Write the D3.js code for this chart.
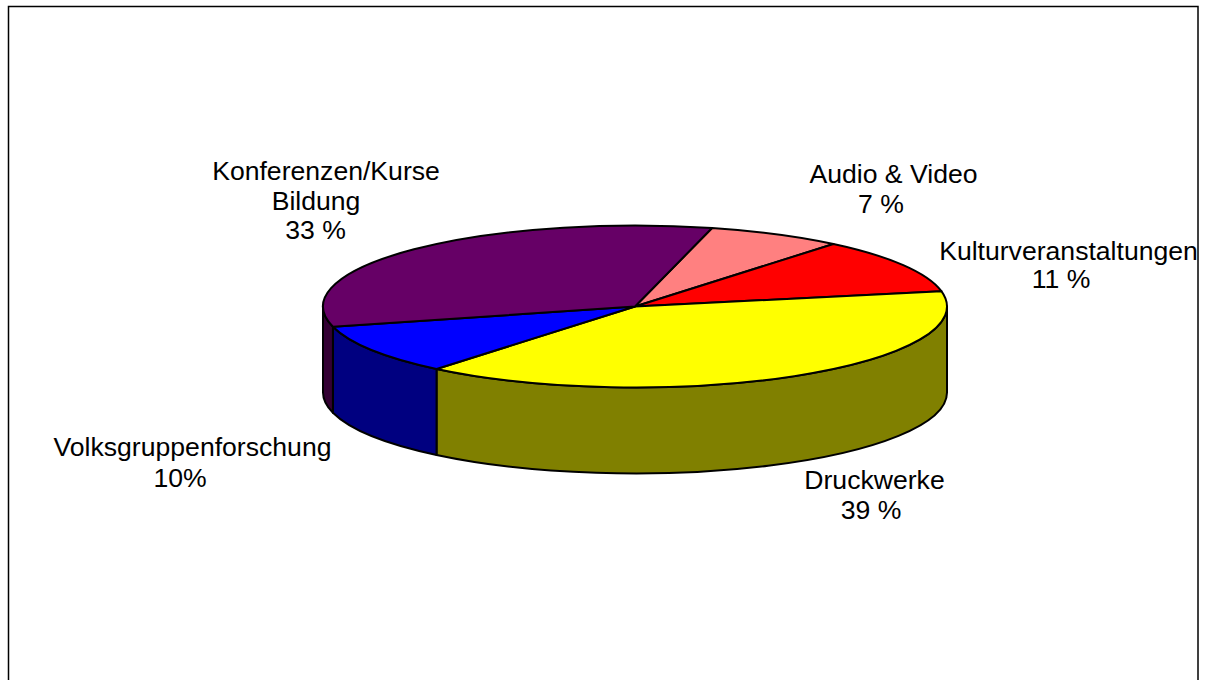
<!DOCTYPE html>
<html>
<head>
<meta charset="utf-8">
<script src="https://cdn.jsdelivr.net/npm/d3@7"></script>
<style>
  html, body { margin: 0; padding: 0; background: #fff; overflow: hidden; }
  svg { display: block; }
</style>
</head>
<body>
<svg id="chart" width="1206" height="680"></svg>
<script>
// ─── Data ────────────────────────────────────────────────────────────────────
const categories = ['Audio & Video', 'Kulturveranstaltungen', 'Druckwerke', 'Volksgruppenforschung', 'Konferenzen/Kurse Bildung'];
const values = [7, 11, 39, 10, 33];
const labelLines = [
  ['Audio & Video', '7 %'],
  ['Kulturveranstaltungen', '11 %'],
  ['Druckwerke', '39 %'],
  ['Volksgruppenforschung', '10%'],
  ['Konferenzen/Kurse', 'Bildung', '33 %']
];
const topColors = ['#ff8080', '#ff0000', '#ffff00', '#0000ff', '#660066'];
const sideColors = ['#804040', '#800000', '#808000', '#000080', '#330033'];

// ─── Layout ──────────────────────────────────────────────────────────────────
const W = 1206, H = 680;
const CX = 635, CY = 306.5;   // centre of the top ellipse
const RX = 312, RY = 81;
const DEPTH = 86;
const START_DEG = 14.3;       // first slice starts a bit right of 12 o'clock
const STROKE = 2;
const FONT_SIZE = 26.6;
// Centre x and baseline of every label line. The lines are not centred on each
// other in the reference, so each one gets its own x.
const labelX = [[893.5, 881], [1068.5, 1061], [874.5, 871], [192.5, 180], [326, 316, 315.5]];
const labelY = [[183, 213], [260, 288], [489, 519], [456, 487], [180, 209.5, 239]];

const rad = d => d * Math.PI / 180;
const svg = d3.select('#chart');

const color = d3.scaleOrdinal().domain(categories).range(topColors);
const sideColor = d3.scaleOrdinal().domain(categories).range(sideColors);

const pie = d3.pie()
  .sort(null)
  .value(d => d.value)
  .startAngle(rad(START_DEG))
  .endAngle(rad(START_DEG + 360));

const slices = pie(categories.map((name, i) => ({ name, value: values[i] })));

// Point on the rim, angle 0 at 12 o'clock and clockwise like d3.arc.
const rimX = a => CX + RX * Math.sin(a);
const rimY = a => CY - RY * Math.cos(a);

// Outer frame: the bottom edge runs off the page in the reference.
svg.append('rect')
  .attr('x', 8.5).attr('y', 6.5)
  .attr('width', 1189.5).attr('height', H)
  .attr('fill', '#fff')
  .attr('stroke', '#000')
  .attr('stroke-width', 1.5);

// ── Side walls: only the part of each slice on the front half ────────────────
const front = slices
  .map(d => ({
    name: d.data.name,
    a0: Math.max(d.startAngle, Math.PI / 2),
    a1: Math.min(d.endAngle, Math.PI * 1.5)
  }))
  .filter(d => d.a1 > d.a0);

svg.append('g')
  .selectAll('path')
  .data(front)
  .join('path')
  .attr('d', d => {
    const x0 = rimX(d.a0), y0 = rimY(d.a0), x1 = rimX(d.a1), y1 = rimY(d.a1);
    return `M${x0},${y0}A${RX},${RY} 0 0 1 ${x1},${y1}` +
           `L${x1},${y1 + DEPTH}A${RX},${RY} 0 0 0 ${x0},${y0 + DEPTH}Z`;
  })
  .attr('fill', d => sideColor(d.name))
  .attr('stroke', '#000')
  .attr('stroke-width', STROKE)
  .attr('stroke-linejoin', 'round');

// ── Top face: a flat d3.arc squashed into an ellipse ─────────────────────────
const arc = d3.arc().innerRadius(0).outerRadius(RX);

svg.append('g')
  .attr('transform', `translate(${CX},${CY}) scale(1,${RY / RX})`)
  .selectAll('path')
  .data(slices)
  .join('path')
  .attr('d', arc)
  .attr('fill', d => color(d.data.name))
  .attr('stroke', '#000')
  .attr('stroke-width', STROKE)
  .attr('stroke-linejoin', 'round')
  .attr('vector-effect', 'non-scaling-stroke');

// ── Labels ───────────────────────────────────────────────────────────────────
const label = svg.append('g')
  .attr('font-family', '"Liberation Sans", Arial, sans-serif')
  .attr('font-size', FONT_SIZE)
  .attr('fill', '#000')
  .attr('text-anchor', 'middle')
  .selectAll('text')
  .data(labelLines.map((lines, i) => lines.map((text, j) => ({ text, x: labelX[i][j], y: labelY[i][j] }))))
  .join('text');

label.selectAll('tspan')
  .data(d => d)
  .join('tspan')
  .attr('x', d => d.x)
  .attr('y', d => d.y)
  .text(d => d.text);
</script>
</body>
</html>
